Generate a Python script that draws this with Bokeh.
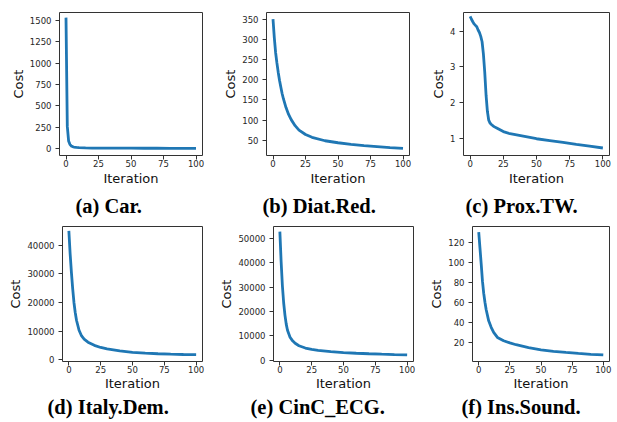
from bokeh.plotting import figure
from bokeh.layouts import column, row
from bokeh.models import FixedTicker, Title
from bokeh.embed import file_html
from bokeh.resources import INLINE

# ---------------- data ----------------
iter_a = [0, 1, 2, 3, 4, 5, 6, 8, 10, 15, 20, 30, 40, 50, 60, 70, 80, 90, 100]
cost_a = [1530, 260, 90, 50, 32, 24, 19, 14, 11, 8, 7, 6, 5.5, 5, 4.8, 4.5, 4.3, 4.1, 4]

iter_b = [0, 1, 2, 3, 4, 5, 6, 7, 8, 10, 12, 14, 17, 20, 25, 30, 40, 50, 60, 70, 80, 90, 100]
cost_b = [351, 305, 268, 242, 219, 199, 182, 166, 153, 131, 114, 101, 86, 75, 64, 57, 48.5, 43.5,
          39.5, 36.5, 34, 31.5, 29.5]

iter_c = [0, 1, 2, 3, 4, 5, 6, 7, 8, 9, 10, 11, 12, 13, 14, 15, 16, 18, 20, 25, 30, 40, 50, 60, 70, 80, 90, 100]
cost_c = [4.41, 4.33, 4.26, 4.2, 4.16, 4.12, 4.03, 3.96, 3.85, 3.7, 3.35, 2.85, 2.2, 1.75, 1.5, 1.42,
          1.38, 1.32, 1.28, 1.18, 1.12, 1.05, 0.98, 0.93, 0.88, 0.82, 0.77, 0.72]

iter_d = [0, 1, 2, 3, 4, 5, 6, 8, 10, 12, 15, 20, 25, 30, 40, 50, 60, 70, 80, 90, 100]
cost_d = [45000, 37000, 30500, 24800, 20000, 16500, 13800, 10300, 8300, 7200, 6150, 5050, 4300,
          3800, 3100, 2600, 2300, 2100, 1950, 1850, 1780]

iter_e = [0, 1, 2, 3, 4, 5, 6, 8, 10, 12, 15, 20, 25, 30, 40, 50, 60, 70, 80, 90, 100]
cost_e = [52900, 40500, 30500, 23500, 18500, 14800, 12300, 9400, 7900, 6900, 5900, 4950, 4350,
          3950, 3450, 3060, 2800, 2600, 2420, 2260, 2120]

iter_f = [0, 1, 2, 3, 4, 5, 6, 8, 10, 12, 15, 20, 25, 30, 40, 50, 60, 70, 80, 90, 100]
cost_f = [130, 114, 98, 81, 69, 60, 52.5, 41.5, 35, 30, 25, 21.7, 19.5, 17.7, 14.8, 12.6, 11.1, 10,
          9, 8.2, 7.5]

captions = ["(a) Car.", "(b) Diat.Red.", "(c) Prox.TW.",
            "(d) Italy.Dem.", "(e) CinC_ECG.", "(f) Ins.Sound."]

x_ticks = [0, 25, 50, 75, 100]
y_ticks_a = [0, 250, 500, 750, 1000, 1250, 1500]
y_ticks_b = [50, 100, 150, 200, 250, 300, 350]
y_ticks_c = [1, 2, 3, 4]
y_ticks_d = [0, 10000, 20000, 30000, 40000]
y_ticks_e = [0, 10000, 20000, 30000, 40000, 50000]
y_ticks_f = [20, 40, 60, 80, 100, 120]

x_label = "Iteration"
y_label = "Cost"

# axis limits
x_lim = (-5, 105)
y_lim_a = (-80, 1590)
y_lim_b = (11.8, 367.4)
y_lim_c = (0.51, 4.52)
y_lim_d = (-600, 46500)
y_lim_e = (-600, 55000)
y_lim_f = (1.0, 135.5)

# ---------------- layout (pixels) ----------------
# width, height, border left, right, top, bottom, caption offset (from frame left),
# x-axis label standoff, caption standoff, caption vertical alignment
layout_spec = [
    (220, 220, 59, 18, 12, 64, 16, 1, 8, "bottom"),
    (200, 220, 44, 11, 6, 65, -4, 1, 8, "bottom"),
    (197, 220, 43, 8, 12, 64, 2, 1, 8, "bottom"),
    (216, 202, 62, 14, 2, 60, -15, 0, 4, "top"),
    (208, 202, 57, 11, 1, 61, -23, 0, 4, "top"),
    (193, 202, 48, 8, 6, 60, -11, 0, 4, "top"),
]

LINE_COLOR = "#1f77b4"


def make_panel(xs, ys, yticks, ylim, caption, spec):
    w, h, bl, br, bt, bb, cx, xls, cs, cva = spec
    p = figure(width=w, height=h, output_backend="svg", toolbar_location=None,
               x_range=x_lim, y_range=ylim,
               min_border_left=bl, min_border_right=br,
               min_border_top=bt, min_border_bottom=bb)
    p.line(xs, ys, line_color=LINE_COLOR, line_width=2.8)
    p.xgrid.visible = False
    p.ygrid.visible = False
    p.outline_line_color = "#333333"
    p.outline_line_width = 1
    p.xaxis.ticker = FixedTicker(ticks=x_ticks)
    p.yaxis.ticker = FixedTicker(ticks=yticks)
    for ax in (p.xaxis[0], p.yaxis[0]):
        ax.axis_line_color = None
        ax.major_tick_in = 0
        ax.major_tick_out = 4
        ax.major_tick_line_color = "#333333"
        ax.minor_tick_line_color = None
        ax.major_label_text_font = "DejaVu Sans"
        ax.major_label_text_font_size = "8.5px"
        ax.major_label_text_color = "#262626"
        ax.axis_label_text_font = "DejaVu Sans"
        ax.axis_label_text_font_size = "13px"
        ax.axis_label_text_font_style = "normal"
        ax.axis_label_text_color = "#111111"
    p.xaxis.major_label_standoff = 0
    p.yaxis.major_label_standoff = 4
    p.xaxis.axis_label = x_label
    p.yaxis.axis_label = y_label
    p.xaxis.axis_label_standoff = xls
    p.yaxis.axis_label_standoff = 1
    p.background_fill_color = "white"
    p.border_fill_color = "white"
    t = Title(text=caption, align="left", offset=cx, standoff=cs, vertical_align=cva,
              text_font="Liberation Serif", text_font_style="bold",
              text_font_size="20.5px", text_color="black")
    p.add_layout(t, "below")
    return p


pa = make_panel(iter_a, cost_a, y_ticks_a, y_lim_a, captions[0], layout_spec[0])
pb = make_panel(iter_b, cost_b, y_ticks_b, y_lim_b, captions[1], layout_spec[1])
pc = make_panel(iter_c, cost_c, y_ticks_c, y_lim_c, captions[2], layout_spec[2])
pd = make_panel(iter_d, cost_d, y_ticks_d, y_lim_d, captions[3], layout_spec[3])
pe = make_panel(iter_e, cost_e, y_ticks_e, y_lim_e, captions[4], layout_spec[4])
pf = make_panel(iter_f, cost_f, y_ticks_f, y_lim_f, captions[5], layout_spec[5])

page = column(row(pa, pb, pc), row(pd, pe, pf))

open("out.html", "w").write(file_html(page, INLINE))
